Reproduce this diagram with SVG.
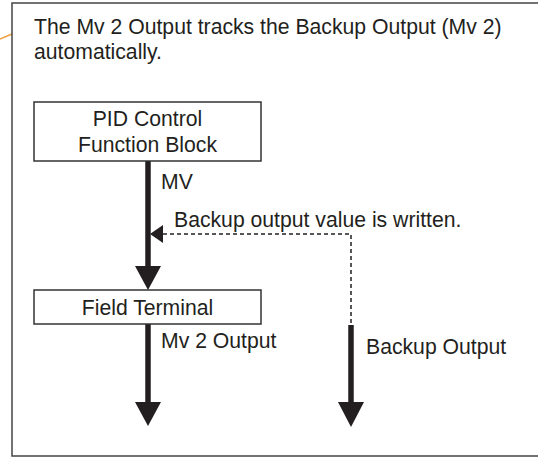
<svg xmlns="http://www.w3.org/2000/svg" width="538" height="457" viewBox="0 0 538 457">
<style>
text{font-family:"Liberation Sans",Arial,sans-serif;font-size:21.2px;fill:#231f20}
.box{fill:#fff;stroke:#333;stroke-width:1.5}
.thick{stroke:#231f20;stroke-width:5.5;fill:none}
.dash{stroke:#231f20;stroke-width:1.5;stroke-dasharray:4 3;fill:none}
.head{fill:#231f20}
</style>
<rect width="538" height="457" fill="#fff"/>
<line x1="0" y1="39" x2="12" y2="34" stroke="#f0a040" stroke-width="1.5"/>
<rect x="12" y="3" width="560" height="453" fill="none" stroke="#444" stroke-width="1.5"/>
<text x="34" y="34">The Mv 2 Output tracks the Backup Output (Mv 2)</text>
<text x="34" y="59">automatically.</text>
<g id="connectors">
<line class="thick" x1="148" y1="161" x2="148" y2="268"/>
<polygon class="head" points="135,266 161,266 148,290"/>
<line class="thick" x1="148" y1="324" x2="148" y2="405"/>
<polygon class="head" points="135,402 161,402 148,426"/>
<polyline class="dash" points="163,234 351,234 351,325"/>
<polygon class="head" points="150,234 163,225 163,243"/>
<line class="thick" x1="351" y1="325" x2="351" y2="405"/>
<polygon class="head" points="338,402 364,402 351,427"/>
<text x="161" y="189">MV</text>
<text x="174" y="227">Backup output value is written.</text>
<text x="161" y="348">Mv 2 Output</text>
<text x="366" y="354">Backup Output</text>
</g>
<g id="pid">
<rect class="box" x="34" y="102" width="227" height="59"/>
<text x="147.5" y="126" text-anchor="middle">PID Control</text>
<text x="147.5" y="152" text-anchor="middle">Function Block</text>
</g>
<g id="field">
<rect class="box" x="34" y="290" width="227" height="34"/>
<text x="147.5" y="315" text-anchor="middle">Field Terminal</text>
</g>
</svg>
